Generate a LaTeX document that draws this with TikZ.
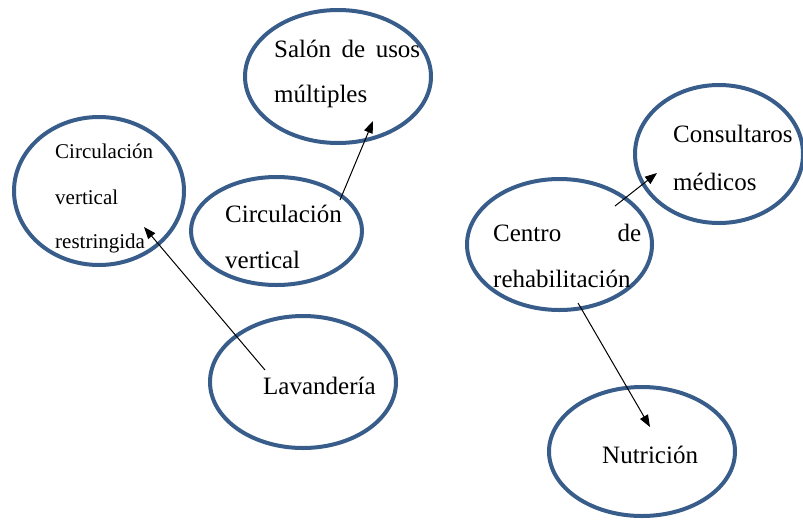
\documentclass[tikz,border=0pt]{standalone}
\usepackage{fontspec}
\setmainfont{Liberation Serif}
\usetikzlibrary{shapes.geometric,arrows.meta}
\definecolor{ringblue}{RGB}{56,93,138}
\tikzset{
  ring/.style={ellipse,draw=ringblue,line width=4pt,inner sep=0pt},
  big/.style={anchor=base west,inner sep=0pt,font=\fontsize{25}{30}\selectfont},
  small/.style={anchor=base west,inner sep=0pt,font=\fontsize{21}{25}\selectfont},
  link/.style={line width=1pt,-{Triangle[length=12pt,width=9pt]}}
}
\begin{document}
\begin{tikzpicture}[x=1pt,y=-1pt]
\useasboundingbox (0,0) rectangle (803,520);
% ellipses
\node[ring,minimum width=186pt,minimum height=133pt] (salon) at (338,76.5) {};
\node[ring,minimum width=170pt,minimum height=148pt] (restr) at (99,191) {};
\node[ring,minimum width=171pt,minimum height=108pt] (circ) at (276.5,231) {};
\node[ring,minimum width=186pt,minimum height=132pt] (lav) at (303,382) {};
\node[ring,minimum width=185pt,minimum height=131pt] (centro) at (559.5,244.5) {};
\node[ring,minimum width=168pt,minimum height=138pt] (cons) at (719,154) {};
\node[ring,minimum width=186pt,minimum height=129pt] (nutr) at (642,451.5) {};
% texts
\node[big] (t1a) at (274,57) {\makebox[146pt][s]{Salón de usos}};
\node[big] (t1b) at (274,102) {múltiples};
\node[small] (t2a) at (55,158) {Circulación};
\node[small] (t2b) at (55,204) {vertical};
\node[small] (t2c) at (55,248) {restringida};
\node[big] (t3a) at (225,222) {Circulación};
\node[big] (t3b) at (225,268) {vertical};
\node[big] (t4) at (263,394) {Lavandería};
\node[big] (t5a) at (493,241) {\makebox[148pt][s]{Centro de}};
\node[big] (t5b) at (493,287) {rehabilitación};
\node[big] (t6a) at (673,142) {Consultaros};
\node[big] (t6b) at (673,190) {médicos};
\node[big] (t7) at (602,463) {Nutrición};
% arrow ends
\coordinate (a1s) at (340,200);
\coordinate (a1e) at (373,121);
\coordinate (a2s) at (265,370);
\coordinate (a2e) at (144,227);
\coordinate (a3s) at (615,206);
\coordinate (a3e) at (657,173);
\coordinate (a4s) at (578,303);
\coordinate (a4e) at (650,427);
\draw[link] (a1s) -- (a1e);
\draw[link] (a2s) -- (a2e);
\draw[link] (a3s) -- (a3e);
\draw[link] (a4s) -- (a4e);
\end{tikzpicture}
\end{document}
